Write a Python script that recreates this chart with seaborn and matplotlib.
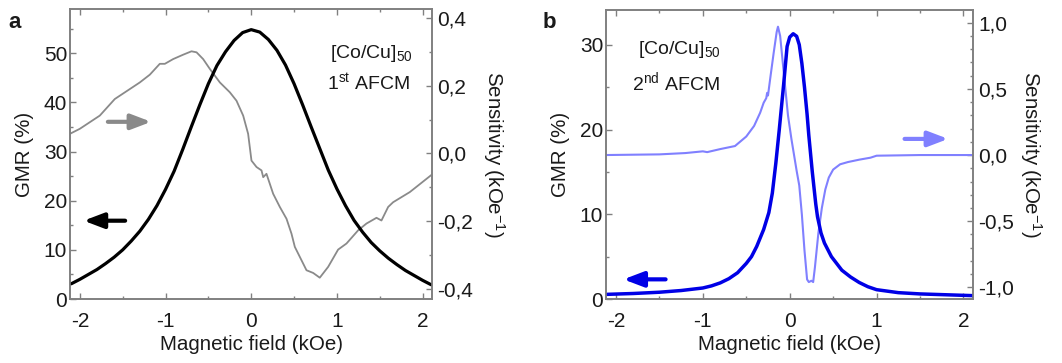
import numpy as np
import pandas as pd
import matplotlib
matplotlib.use("Agg")
import matplotlib.pyplot as plt
from matplotlib.ticker import MultipleLocator, FuncFormatter
import seaborn as sns

# ---------------- data ----------------
# Panel a: 1st AFCM
field_a = [-2.1, -2.0, -1.9, -1.8, -1.7, -1.6, -1.5, -1.4, -1.3, -1.2, -1.1, -1.0,
           -0.9, -0.8, -0.7, -0.6, -0.5, -0.4, -0.3, -0.2, -0.1, 0.0, 0.1, 0.2, 0.3,
           0.4, 0.5, 0.6, 0.7, 0.8, 0.9, 1.0, 1.1, 1.2, 1.3, 1.4, 1.5, 1.6, 1.7, 1.8,
           1.9, 2.0, 2.1]
gmr_a = [3.1, 4.0, 5.0, 6.0, 7.2, 8.5, 10.0, 11.8, 13.8, 16.2, 19.0, 22.3,
         26.0, 30.4, 35.0, 39.5, 43.8, 47.5, 50.3, 52.6, 54.2, 54.8, 54.3, 52.8, 50.6,
         47.6, 43.8, 39.5, 35.0, 30.6, 26.2, 22.4, 19.0, 16.0, 13.6, 11.5, 9.8, 8.3, 7.0, 5.8,
         4.8, 3.8, 2.9]
sfield_a = [-2.117, -2.0, -1.767, -1.592, -1.455, -1.30, -1.183, -1.067, -1.008, -0.911,
            -0.794, -0.697, -0.638, -0.561, -0.483, -0.366, -0.25, -0.172, -0.094, -0.036,
            0.003, 0.062, 0.12, 0.14, 0.178, 0.256, 0.334, 0.412, 0.470, 0.509, 0.645,
            0.723, 0.80, 0.898, 1.014, 1.112, 1.248, 1.345, 1.462, 1.52, 1.598, 1.656,
            1.851, 2.11]
sens_a = [0.058, 0.073, 0.112, 0.161, 0.184, 0.210, 0.233, 0.265, 0.265, 0.279,
          0.292, 0.302, 0.299, 0.279, 0.250, 0.210, 0.181, 0.156, 0.112, 0.058,
          -0.021, -0.040, -0.050, -0.070, -0.060, -0.119, -0.158, -0.193, -0.237, -0.276, -0.345,
          -0.353, -0.367, -0.335, -0.284, -0.266, -0.227, -0.207, -0.190, -0.198, -0.158, -0.144,
          -0.114, -0.062]

# Panel b: 2nd AFCM
field_b = [-2.1, -1.8, -1.5, -1.25, -1.0, -0.9, -0.8, -0.7, -0.6, -0.5, -0.44, -0.38, -0.3,
           -0.24, -0.2, -0.16, -0.12, -0.07, -0.03, 0.0, 0.04, 0.08, 0.11, 0.14, 0.17,
           0.2, 0.22, 0.26, 0.3, 0.32, 0.36, 0.4, 0.48, 0.6, 0.7, 0.8, 0.9, 1.0, 1.25, 1.5,
           1.8, 2.1]
gmr_b = [0.55, 0.65, 0.8, 1.0, 1.3, 1.55, 1.9, 2.4, 3.1, 4.2, 5.0, 6.2, 8.2,
         10.2, 12.5, 16.0, 20.0, 25.3, 29.8, 30.9, 31.3, 31.0, 30.0, 27.8, 25.0,
         21.8, 19.3, 15.0, 11.2, 9.7, 7.8, 6.6, 5.0, 3.4, 2.6, 1.95, 1.45, 1.1, 0.75, 0.6,
         0.5, 0.4]
sfield_b = [-2.12, -1.5, -1.2, -1.0, -0.95, -0.8, -0.63, -0.5, -0.41, -0.34, -0.30, -0.27,
            -0.26, -0.25, -0.22, -0.185, -0.15, -0.135, -0.11, -0.08, -0.05, -0.02, 0.02,
            0.05, 0.08, 0.11, 0.14, 0.17, 0.2, 0.22, 0.25, 0.27, 0.29, 0.33, 0.37, 0.41,
            0.45, 0.5, 0.58, 0.67, 0.8, 0.93, 1.0, 1.5, 2.12]
sens_b = [0.0, 0.005, 0.015, 0.028, 0.022, 0.045, 0.068, 0.14, 0.22, 0.32, 0.395, 0.43,
          0.47, 0.45, 0.60, 0.77, 0.93, 0.97, 0.90, 0.70, 0.50, 0.30, 0.12,
          0.0, -0.12, -0.23, -0.45, -0.72, -0.94, -0.96, -0.95, -0.96, -0.85, -0.59, -0.40, -0.26,
          -0.17, -0.11, -0.07, -0.053, -0.035, -0.02, -0.005, 0.0, 0.0]

xticks = [-2, -1, 0, 1, 2]

# ---------------- style ----------------
sns.set_theme(style="ticks")
plt.rcParams['font.family'] = ['Liberation Sans', 'DejaVu Sans']
plt.rcParams['mathtext.fontset'] = 'custom'
plt.rcParams['mathtext.rm'] = 'Liberation Sans'
plt.rcParams['mathtext.it'] = 'Liberation Sans:italic'
plt.rcParams['mathtext.bf'] = 'Liberation Sans:bold'
plt.rcParams['axes.unicode_minus'] = False

SPINE = '#808080'
TXT = '#1a1a1a'
FS_TICK = 15
FS_LAB = 14.8

fig = plt.figure(figsize=(10.62, 3.63), dpi=100)
ax_a = fig.add_axes([0.0659, 0.1763, 0.3409, 0.7989])
ax_b = fig.add_axes([0.5706, 0.1763, 0.3456, 0.7961])

comma = FuncFormatter(lambda v, p: f"{v:.1f}".replace('.', ','))


def style(ax, ax2, ylim, y2lim, ymaj, ymin, y2maj, y2min, rpad):
    ax.set_xlim(-2.115, 2.11)
    ax.set_ylim(*ylim)
    ax2.set_ylim(*y2lim)
    ax.set_xticks(xticks)
    ax.xaxis.set_minor_locator(MultipleLocator(0.5))
    ax.yaxis.set_major_locator(MultipleLocator(ymaj))
    ax.yaxis.set_minor_locator(MultipleLocator(ymin))
    ax2.yaxis.set_major_locator(MultipleLocator(y2maj))
    ax2.yaxis.set_minor_locator(MultipleLocator(y2min))
    ax2.yaxis.set_major_formatter(comma)
    for a in (ax, ax2):
        for s in a.spines.values():
            s.set_color(SPINE)
            s.set_linewidth(1.2)
    ax.tick_params(axis='x', which='both', direction='in', top=True, bottom=True,
                   color=SPINE, labelsize=FS_TICK, labelcolor=TXT, pad=9)
    ax.tick_params(axis='y', which='both', direction='in', left=True, right=False,
                   color=SPINE, labelsize=FS_TICK, labelcolor=TXT, pad=2)
    ax2.tick_params(axis='y', which='both', direction='in', right=True,
                    color=SPINE, labelsize=FS_TICK, labelcolor=TXT, pad=4)
    for a in (ax, ax2):
        a.tick_params(which='major', length=4, width=1)
        a.tick_params(which='minor', length=2.5, width=1)
    ax.set_xlabel("Magnetic field (kOe)", fontsize=FS_LAB, color=TXT, labelpad=3)
    ax.set_ylabel("GMR (%)", fontsize=FS_LAB, color=TXT, labelpad=7)
    ax2.set_ylabel("Sensitivity (kOe$^{-1}$)", fontsize=FS_LAB, color=TXT,
                   rotation=270, labelpad=rpad)


AS = '-|>,head_length=1.0,head_width=0.38'

# ---------------- panel a ----------------
ax_a2 = ax_a.twinx()
sns.lineplot(x=sfield_a, y=sens_a, ax=ax_a2, color='#8a8a8a', lw=1.3, sort=False)
sns.lineplot(x=field_a, y=gmr_a, ax=ax_a, color='black', lw=2.3, sort=False)
ax_a.set_zorder(ax_a2.get_zorder() + 1)
ax_a.patch.set_visible(False)
style(ax_a, ax_a2, (0, 59), (-0.43, 0.427), 10, 5, 0.2, 0.1, 24)

ax_a.annotate("", xy=(0.232, 0.611), xytext=(0.097, 0.611), xycoords='axes fraction',
              arrowprops=dict(arrowstyle=AS, color='#8a8a8a', lw=3))
ax_a.annotate("", xy=(0.030, 0.27), xytext=(0.16, 0.27), xycoords='axes fraction',
              arrowprops=dict(arrowstyle=AS, color='black', lw=3))
ax_a.text(0.718, 0.848, r"[Co/Cu]$_{\mathrm{50}}$", transform=ax_a.transAxes, fontsize=14,
          color=TXT, va='center', ha='left')
ax_a.text(0.71, 0.745, r"1$^{\mathrm{st}}$ AFCM", transform=ax_a.transAxes, fontsize=14,
          color=TXT, va='center', ha='left')

# ---------------- panel b ----------------
ax_b2 = ax_b.twinx()
sns.lineplot(x=sfield_b, y=sens_b, ax=ax_b2, color='#8080ff', lw=1.5, sort=False)
sns.lineplot(x=field_b, y=gmr_b, ax=ax_b, color='#0000e6', lw=2.5, sort=False)
ax_b.set_zorder(ax_b2.get_zorder() + 1)
ax_b.patch.set_visible(False)
style(ax_b, ax_b2, (0, 34.1), (-1.088, 1.096), 10, 5, 0.5, 0.1, 21)

ax_b.annotate("", xy=(0.94, 0.554), xytext=(0.806, 0.554), xycoords='axes fraction',
              arrowprops=dict(arrowstyle=AS, color='#8080ff', lw=3))
ax_b.annotate("", xy=(0.040, 0.068), xytext=(0.17, 0.068), xycoords='axes fraction',
              arrowprops=dict(arrowstyle=AS, color='#0000e6', lw=3))
ax_b.text(0.087, 0.862, r"[Co/Cu]$_{\mathrm{50}}$", transform=ax_b.transAxes, fontsize=14,
          color=TXT, va='center', ha='left')
ax_b.text(0.071, 0.751, r"2$^{\mathrm{nd}}$ AFCM", transform=ax_b.transAxes, fontsize=14,
          color=TXT, va='center', ha='left')

fig.text(0.008, 0.938, "a", fontsize=16, fontweight='bold', color=TXT, va='center')
fig.text(0.511, 0.938, "b", fontsize=16, fontweight='bold', color=TXT, va='center')

fig.savefig("out.png", dpi=100)
